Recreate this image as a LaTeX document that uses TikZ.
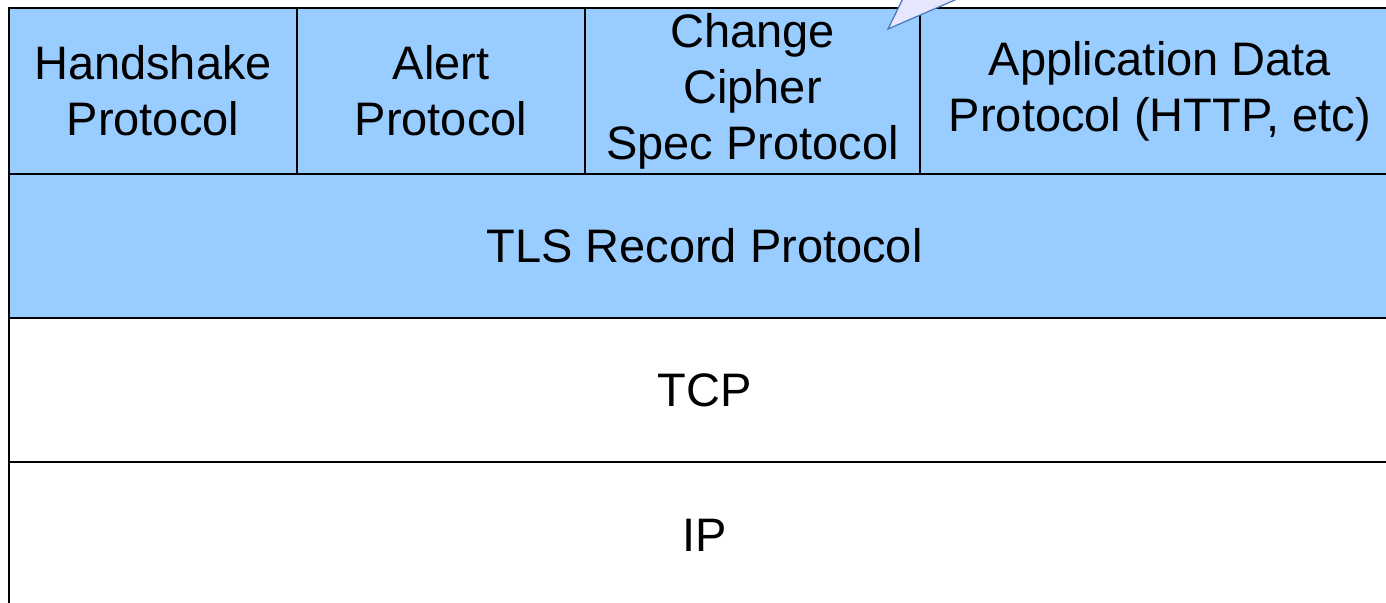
\documentclass[tikz,border=0pt]{standalone}
\usepackage{fontspec}
\setmainfont{Liberation Sans}
\usetikzlibrary{positioning}
\definecolor{layerblue}{HTML}{99CCFF}
\definecolor{calloutfill}{HTML}{E6E6FF}
\definecolor{calloutline}{HTML}{4A76B8}

\begin{document}
\begin{tikzpicture}[x=0.5pt, y=-0.5pt,
  layer/.style={draw=black, line width=0.9pt, inner sep=0pt, outer sep=0pt,
    align=center, font=\fontsize{23.5}{28}\selectfont},
  tlslayer/.style={layer, fill=layerblue},
  netlayer/.style={layer, fill=white}]
  \useasboundingbox (0,0) rectangle (1386,603);
  \clip (0,0) rectangle (1386,603);
  % upper protocols
  \node[tlslayer, minimum width=144pt, minimum height=83pt] (hs) at (153,91)
    {Handshake\\Protocol};
  \node[tlslayer, minimum width=144pt, minimum height=83pt, right=0pt of hs] (alert)
    {Alert\\Protocol};
  \node[tlslayer, minimum width=167.5pt, minimum height=83pt, right=0pt of alert] (ccs)
    {Change\\Cipher\\Spec Protocol};
  \node[tlslayer, minimum width=240pt, minimum height=83pt, right=0pt of ccs] (app)
    {Application Data\\Protocol (HTTP, etc)};
  % record layer
  \node[tlslayer, minimum width=695.5pt, minimum height=72pt, anchor=north west] (rec)
    at (hs.south west) {TLS Record Protocol};
  % transport and network
  \node[netlayer, minimum width=695.5pt, minimum height=72pt, below=0pt of rec] (tcp) {TCP};
  \node[netlayer, minimum width=695.5pt, minimum height=73pt, below=0pt of tcp] (ip) {IP};
  % callout pointer
  \coordinate (tip) at (888,29);
  \fill[calloutfill, draw=calloutline, line width=0.6pt]
    (tip) -- (912,-20) -- (1001,-20) -- cycle;
\end{tikzpicture}
\end{document}
